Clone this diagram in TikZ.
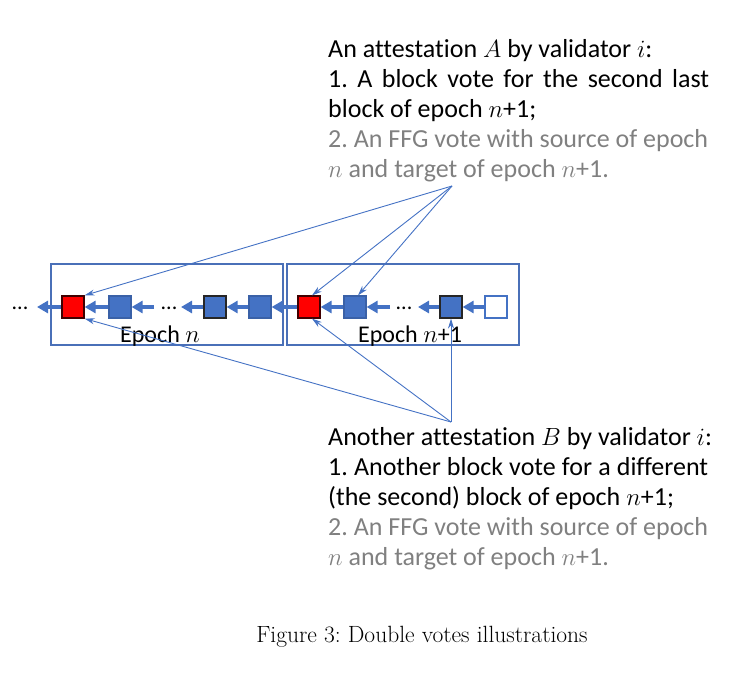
\documentclass[tikz,border=0pt]{standalone}
\usepackage{fontspec}
\newfontfamily\carl[Ligatures={NoCommon}]{Carlito}
\usetikzlibrary{arrows.meta}
\frenchspacing
\definecolor{offblue}{HTML}{4472C4}
\definecolor{boxblue}{HTML}{4A70B8}
\definecolor{txtgray}{RGB}{128,128,128}
\definecolor{darkred}{HTML}{400000}
\tikzset{
  blk/.style={minimum width=22pt,minimum height=22pt,inner sep=0pt,line width=1.2pt},
  blueblk/.style={blk,fill=offblue,draw=offblue!85!black},
  darkblk/.style={blk,fill=offblue,draw=black!85},
  redblk/.style={blk,fill=red,draw=darkred},
  whiteblk/.style={blk,fill=white,draw=offblue},
  epochbox/.style={draw=boxblue,line width=1.2pt},
  chain/.style={draw=offblue,line width=3.4pt,-{Triangle[length=11pt,width=12pt]}},
  vote/.style={draw=offblue,line width=0.9pt,-{Stealth[length=10pt,width=6pt]}},
  dots/.style={font=\carl\fontsize{22}{24}\selectfont,inner sep=0pt},
  txt/.style={anchor=base west,inner sep=0pt,font=\carl\fontsize{26}{30}\selectfont},
  gtxt/.style={txt,text=txtgray},
  elabel/.style={anchor=base,inner sep=0pt,font=\carl\fontsize{24}{26}\selectfont},
}
\begin{document}
\begin{tikzpicture}[x=1pt,y=-1pt]
\useasboundingbox (0,0) rectangle (747,674);
% epoch boxes
\draw[epochbox] (51,264) rectangle (283,345);
\draw[epochbox] (287,264) rectangle (519,345);
% blocks
\node[dots] (d0) at (20,308) {...};
\node[redblk] (r1) at (73,307) {};
\node[blueblk] (b1) at (120,307) {};
\node[dots] (d1) at (169,308) {...};
\node[darkblk] (k1) at (215,307) {};
\node[blueblk] (b2) at (260,307) {};
\node[redblk] (r2) at (309,307) {};
\node[blueblk] (b3) at (355,307) {};
\node[dots] (d2) at (404,308) {...};
\node[darkblk] (k2) at (451,307) {};
\node[whiteblk] (w) at (496,307) {};
% chain arrows
\draw[chain] (r1.west) -- (37,307);
\draw[chain] (b1.west) -- (r1.east);
\draw[chain] (154,307) -- (b1.east);
\draw[chain] (k1.west) -- (181,307);
\draw[chain] (b2.west) -- (k1.east);
\draw[chain] (r2.west) -- (b2.east);
\draw[chain] (b3.west) -- (r2.east);
\draw[chain] (390,307) -- (b3.east);
\draw[chain] (k2.west) -- (418,307);
\draw[chain] (w.west) -- (k2.east);
% epoch labels
\node[elabel] (e1) at (160,342) {Epoch $n$};
\node[elabel] (e2) at (410,342) {Epoch $n$+1};
% text A
\node[txt] (a1) at (328,58) {An attestation $A$ by validator $i$:};
\node[txt] (a2) at (328,88) {\makebox[381pt][s]{1. A block vote for the second last}};
\node[txt] (a3) at (328,117.5) {block of epoch $n$+1;};
\node[gtxt] (a4) at (328,147) {\makebox[380pt][s]{2. An FFG vote with source of epoch}};
\node[gtxt] (a5) at (328,177) {$n$ and target of epoch $n$+1.};
% text B
\node[txt] (b1t) at (328,445) {Another attestation $B$ by validator $i$:};
\node[txt] (b2t) at (328,475) {\makebox[380pt][s]{1. Another block vote for a different}};
\node[txt] (b3t) at (328,505) {(the second) block of epoch $n$+1;};
\node[gtxt] (b4t) at (328,535) {\makebox[380pt][s]{2. An FFG vote with source of epoch}};
\node[gtxt] (b5t) at (328,565) {$n$ and target of epoch $n$+1.};
% vote lines
\coordinate (T) at (452,186);
\coordinate (B) at (451,422);
\draw[vote] (T) -- (r1.north east);
\draw[vote] (T) -- ([xshift=3pt]r2.north);
\draw[vote] (T) -- ([xshift=3pt]b3.north);
\draw[vote] (B) -- (r1.south east);
\draw[vote] (B) -- ([xshift=3pt]r2.south);
\draw[vote] (B) -- (k2.south);
% caption
\node[anchor=base,inner sep=0pt,font=\fontsize{23.5}{26}\selectfont] (cap) at (422,642) {Figure 3: Double votes illustrations};
\end{tikzpicture}
\end{document}
